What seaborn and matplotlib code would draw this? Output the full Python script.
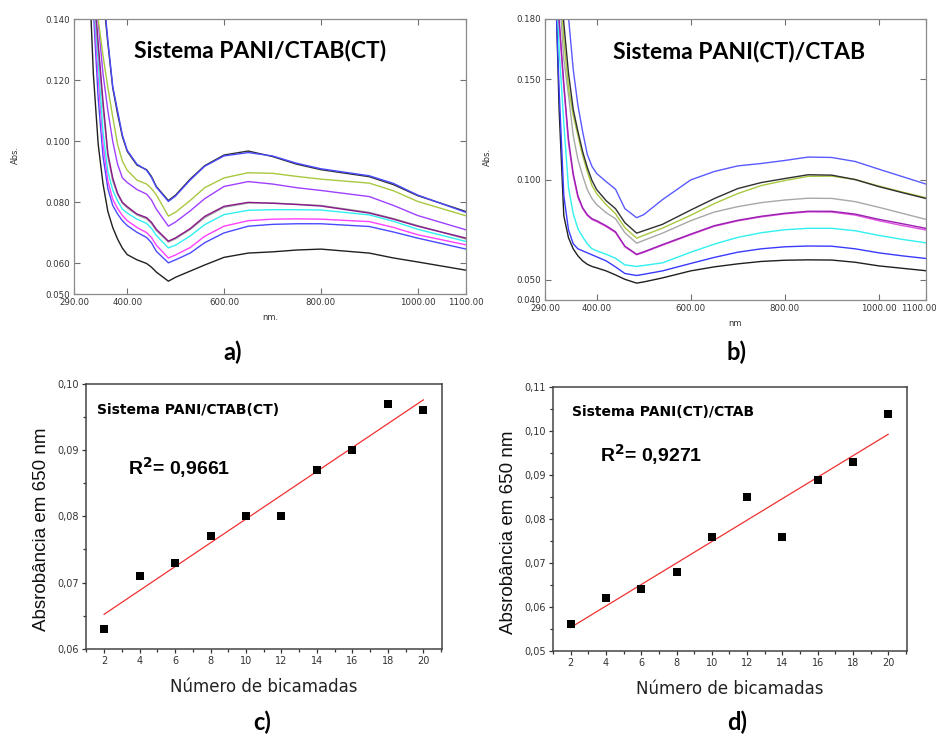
import numpy as np
import pandas as pd
import seaborn as sns
import matplotlib.pyplot as plt
import matplotlib.transforms as mtransforms
from matplotlib.ticker import FixedLocator, MultipleLocator, FuncFormatter

# ---- spectra, panel a (PANI/CTAB(CT)) ----
wl_a = [320, 330, 340, 350, 360, 370, 380, 390, 400, 420, 440, 450, 460, 485, 500, 530,
        560, 600, 650, 700, 750, 800, 900, 950, 1000, 1100]
a_black_top = [0.215, 0.190, 0.166, 0.148, 0.132, 0.1175, 0.109, 0.1015, 0.0967, 0.0922, 0.0907, 0.0885, 0.0852,
               0.0806, 0.0824, 0.0876, 0.0920, 0.0955, 0.0968, 0.0950, 0.0925, 0.0907, 0.0884, 0.0858, 0.0822, 0.0770]
a_blue_top = [0.220, 0.193, 0.168, 0.150, 0.133, 0.1180, 0.110, 0.1020, 0.0970, 0.0925, 0.0905, 0.0882, 0.0850,
              0.0803, 0.0821, 0.0873, 0.0918, 0.0952, 0.0963, 0.0952, 0.0928, 0.0910, 0.0887, 0.0862, 0.0824, 0.0767]
a_yellow = [0.200, 0.168, 0.140, 0.128, 0.1175, 0.108, 0.099, 0.0935, 0.0905, 0.0873, 0.0860, 0.0845, 0.0825,
            0.0755, 0.0768, 0.0806, 0.0848, 0.0880, 0.0897, 0.0895, 0.0885, 0.0876, 0.0863, 0.0838, 0.0803, 0.0756]
a_violet = [0.190, 0.158, 0.139, 0.122, 0.110, 0.100, 0.0925, 0.0880, 0.0865, 0.0842, 0.0827, 0.0808, 0.0778,
            0.0722, 0.0736, 0.0772, 0.0812, 0.0852, 0.0868, 0.0860, 0.0848, 0.0839, 0.0819, 0.0790, 0.0757, 0.0710]
a_purple = [0.185, 0.152, 0.132, 0.113, 0.096, 0.088, 0.0830, 0.0800, 0.0786, 0.0762, 0.0750, 0.0735, 0.0712,
            0.0673, 0.0684, 0.0714, 0.0754, 0.0787, 0.0800, 0.0797, 0.0793, 0.0788, 0.0765, 0.0745, 0.0722, 0.0683]
a_gray = [0.183, 0.150, 0.130, 0.111, 0.095, 0.087, 0.0826, 0.0797, 0.0782, 0.0759, 0.0746, 0.0731, 0.0708,
          0.0670, 0.0681, 0.0711, 0.0750, 0.0784, 0.0798, 0.0798, 0.0794, 0.0790, 0.0767, 0.0747, 0.0724, 0.0680]
a_cyan = [0.180, 0.148, 0.126, 0.103, 0.090, 0.084, 0.0805, 0.0778, 0.0765, 0.0745, 0.0731, 0.0715, 0.0692,
          0.0651, 0.0660, 0.0690, 0.0727, 0.0760, 0.0774, 0.0776, 0.0776, 0.0775, 0.0759, 0.0738, 0.0712, 0.0672]
a_magenta = [0.175, 0.146, 0.121, 0.099, 0.087, 0.081, 0.0780, 0.0757, 0.0740, 0.0718, 0.0701, 0.0685, 0.0660,
             0.0618, 0.0628, 0.0652, 0.0689, 0.0722, 0.0740, 0.0745, 0.0746, 0.0745, 0.0737, 0.0718, 0.0694, 0.0661]
a_blue = [0.170, 0.143, 0.114, 0.095, 0.0845, 0.079, 0.0762, 0.0740, 0.0724, 0.0702, 0.0685, 0.0668, 0.0640,
          0.0602, 0.0612, 0.0634, 0.0668, 0.0700, 0.0722, 0.0728, 0.0730, 0.0730, 0.0721, 0.0703, 0.0683, 0.0647]
a_black = [0.160, 0.122, 0.099, 0.086, 0.077, 0.0718, 0.0680, 0.0650, 0.0629, 0.0612, 0.0600, 0.0588, 0.0572,
           0.0542, 0.0555, 0.0575, 0.0595, 0.0620, 0.0634, 0.0638, 0.0644, 0.0647, 0.0634, 0.0618, 0.0605, 0.0578]

# ---- spectra, panel b (PANI(CT)/CTAB) ----
wl_b = [310, 320, 330, 340, 350, 360, 370, 380, 390, 400, 420, 440, 460, 485, 500, 540,
        600, 650, 700, 750, 800, 850, 900, 950, 1000, 1050, 1100]
b_blue_top = [0.320, 0.260, 0.210, 0.181, 0.155, 0.137, 0.124, 0.1125, 0.1065, 0.1030, 0.0990, 0.0952, 0.0855, 0.0810,
              0.0825, 0.0900, 0.0998, 0.1040, 0.1068, 0.1080, 0.1095, 0.1112, 0.1110, 0.1090, 0.1052, 0.1015, 0.0978]
b_black_top = [0.270, 0.215, 0.178, 0.153, 0.135, 0.124, 0.114, 0.1060, 0.0995, 0.0950, 0.0895, 0.0855, 0.0785, 0.0733,
               0.0745, 0.0777, 0.0848, 0.0905, 0.0955, 0.0985, 0.1005, 0.1024, 0.1022, 0.1000, 0.0965, 0.0935, 0.0906]
b_yellow = [0.260, 0.205, 0.170, 0.146, 0.132, 0.122, 0.112, 0.1040, 0.0970, 0.0930, 0.0875, 0.0830, 0.0760, 0.0708,
            0.0722, 0.0758, 0.0822, 0.0880, 0.0930, 0.0970, 0.0995, 0.1016, 0.1017, 0.1000, 0.0968, 0.0938, 0.0910]
b_gray = [0.250, 0.195, 0.160, 0.142, 0.122, 0.110, 0.102, 0.0950, 0.0905, 0.0875, 0.0835, 0.0805, 0.0735, 0.0683,
          0.0697, 0.0733, 0.0795, 0.0838, 0.0865, 0.0885, 0.0898, 0.0907, 0.0906, 0.0890, 0.0862, 0.0832, 0.0802]
b_purple = [0.240, 0.180, 0.148, 0.120, 0.103, 0.092, 0.0860, 0.0825, 0.0805, 0.0795, 0.0770, 0.0740, 0.0668, 0.0628,
            0.0640, 0.0676, 0.0728, 0.0770, 0.0797, 0.0817, 0.0832, 0.0842, 0.0842, 0.0828, 0.0802, 0.0780, 0.0757]
b_magenta = [0.238, 0.178, 0.146, 0.118, 0.102, 0.091, 0.0856, 0.0821, 0.0801, 0.0791, 0.0766, 0.0736, 0.0665, 0.0625,
             0.0637, 0.0673, 0.0725, 0.0767, 0.0794, 0.0814, 0.0829, 0.0839, 0.0838, 0.0823, 0.0795, 0.0771, 0.0749]
b_cyan = [0.230, 0.165, 0.128, 0.096, 0.083, 0.0755, 0.0715, 0.0680, 0.0655, 0.0645, 0.0628, 0.0608, 0.0575, 0.0567,
          0.0572, 0.0585, 0.0638, 0.0678, 0.0712, 0.0735, 0.0750, 0.0757, 0.0757, 0.0745, 0.0722, 0.0702, 0.0685]
b_blue = [0.210, 0.145, 0.092, 0.075, 0.068, 0.0655, 0.0645, 0.0635, 0.0625, 0.0615, 0.0595, 0.0565, 0.0532, 0.0522,
          0.0528, 0.0545, 0.0582, 0.0612, 0.0638, 0.0655, 0.0665, 0.0669, 0.0668, 0.0655, 0.0635, 0.0620, 0.0607]
b_black = [0.220, 0.135, 0.082, 0.071, 0.0655, 0.0620, 0.0595, 0.0578, 0.0567, 0.0560, 0.0545, 0.0525, 0.0503, 0.0484,
           0.0490, 0.0510, 0.0545, 0.0565, 0.0580, 0.0592, 0.0598, 0.0600, 0.0599, 0.0588, 0.0570, 0.0558, 0.0546]

# ---- absorbance at 650 nm vs bilayers ----
bilayers = [2, 4, 6, 8, 10, 12, 14, 16, 18, 20]
abs_c = [0.063, 0.071, 0.073, 0.077, 0.080, 0.080, 0.087, 0.090, 0.097, 0.096]
abs_d = [0.056, 0.062, 0.064, 0.068, 0.076, 0.085, 0.076, 0.089, 0.093, 0.104]

spectra_a = [(a_black, "#202020"), (a_blue, "#4a4aff"), (a_magenta, "#ff40ff"),
             (a_cyan, "#30f0f0"), (a_gray, "#a0a0a0"), (a_purple, "#8a1a8a"),
             (a_violet, "#a040ff"), (a_yellow, "#a8c840"), (a_black_top, "#303030"),
             (a_blue_top, "#4a4aff")]
spectra_b = [(b_black, "#202020"), (b_blue, "#3a3aff"), (b_cyan, "#30f0f0"),
             (b_magenta, "#e050e0"), (b_purple, "#9a20b0"), (b_gray, "#a8a8a8"),
             (b_yellow, "#a8c840"), (b_black_top, "#303030"), (b_blue_top, "#5a5aff")]

fig = plt.figure(figsize=(9.39, 7.38), dpi=100)

title_font = dict(family="Lato", weight="bold")


def spectra_panel(ax, wl, curves, ylim, yticks, title, title_x, xlab):
    for vals, col in curves:
        sns.lineplot(x=wl, y=vals, color=col, lw=1.0, ax=ax, sort=False)
    ax.set_xlim(290, 1100)
    ax.set_ylim(*ylim)
    ax.xaxis.set_major_locator(FixedLocator([290, 400, 600, 800, 1000, 1100]))
    ax.yaxis.set_major_locator(FixedLocator(yticks))
    ax.xaxis.set_major_formatter(FuncFormatter(lambda v, p: f"{v:.2f}"))
    ax.yaxis.set_major_formatter(FuncFormatter(lambda v, p: f"{v:.3f}"))
    ax.tick_params(direction="in", top=True, right=True, length=4, width=0.8,
                   labelsize=6.2, color="#707070", labelcolor="#333333", pad=3)
    for s in ax.spines.values():
        s.set_color("#8a8a8a")
        s.set_linewidth(0.9)
    ax.set_xlabel(xlab, fontsize=6, color="#333333", labelpad=4)
    ax.set_ylabel("")
    ax.text(title_x, 0.885, title, transform=ax.transAxes, ha="center", va="center",
            fontsize=16.5, **title_font)


ax_a = fig.add_axes([0.0788, 0.6016, 0.4175, 0.3726])
spectra_panel(ax_a, wl_a, spectra_a, (0.050, 0.140),
              [0.050, 0.060, 0.080, 0.100, 0.120, 0.140], "Sistema PANI/CTAB(CT)", 0.475, "nm.")
fig.text(15 / 939, 1 - 155 / 738, "Abs.", rotation=90, ha="center", va="center",
         fontsize=6, color="#333333")

ax_b = fig.add_axes([0.5804, 0.5935, 0.4054, 0.3808])
spectra_panel(ax_b, wl_b, spectra_b, (0.040, 0.180),
              [0.040, 0.050, 0.100, 0.150, 0.180], "Sistema PANI(CT)/CTAB", 0.51, "nm")
fig.text(487 / 939, 1 - 157 / 738, "Abs.", rotation=90, ha="center", va="center",
         fontsize=6, color="#333333")
# keep the last x label of panel b inside the picture
fig.canvas.draw()
last = ax_b.get_xticklabels()[-1]
last.set_transform(last.get_transform() + mtransforms.ScaledTranslation(-0.07, 0, fig.dpi_scale_trans))


def fit_panel(ax, y, ylim, title, r2, title_xy, r2_xy, ylab_xy):
    sns.regplot(x=bilayers, y=y, scatter=False, ci=None, ax=ax,
                line_kws=dict(color="#f03030", lw=0.9))
    sns.scatterplot(x=bilayers, y=y, marker="s", s=26, color="black",
                    edgecolor="black", linewidth=0, ax=ax, zorder=3)
    ax.set_xlim(0.98, 21.05)
    ax.set_ylim(*ylim)
    ax.xaxis.set_major_locator(MultipleLocator(2))
    ax.xaxis.set_minor_locator(MultipleLocator(1))
    ax.yaxis.set_major_locator(MultipleLocator(0.01))
    ax.yaxis.set_minor_locator(MultipleLocator(0.005))
    ax.yaxis.set_major_formatter(FuncFormatter(lambda v, p: f"{v:.2f}".replace(".", ",")))
    ax.tick_params(which="both", direction="out", length=3, width=0.9,
                   color="#333333", labelsize=7, labelcolor="#333333", pad=2)
    ax.tick_params(which="minor", length=2.5)
    for s in ax.spines.values():
        s.set_color("#444444")
        s.set_linewidth(1.1)
    ax.set_xlabel("Número de bicamadas", fontsize=12, family="DejaVu Sans",
                  color="#222222", labelpad=9)
    ax.set_ylabel("Absrobância em 650 nm", fontsize=13.5, family="Liberation Sans",
                  color="#111111")
    ax.yaxis.set_label_coords(*ylab_xy)
    ax.text(*title_xy, title, transform=ax.transAxes, ha="left", va="center",
            fontsize=10, weight="bold", family="DejaVu Sans")
    ax.text(*r2_xy, "R$^{\\mathbf{2}}$= " + r2, transform=ax.transAxes, ha="left",
            va="center", fontsize=14, weight="bold", family="Liberation Sans")


ax_c = fig.add_axes([0.0916, 0.1210, 0.3791, 0.3587])
fit_panel(ax_c, abs_c, (0.06, 0.10), "Sistema PANI/CTAB(CT)", "0,9661",
          (0.03, 0.90), (0.117, 0.685), (-0.101, 0.453))

ax_d = fig.add_axes([0.5886, 0.1183, 0.3770, 0.3568])
fit_panel(ax_d, abs_d, (0.05, 0.11), "Sistema PANI(CT)/CTAB", "0,9271",
          (0.054, 0.905), (0.135, 0.745), (-0.101, 0.451))

for lab, x, y in [("a)", 233, 352), ("b)", 737, 352), ("c)", 262, 722), ("d)", 737, 722)]:
    fig.text(x / 939, 1 - y / 738, lab, ha="center", va="center", fontsize=17, **title_font)

fig.savefig("out.png", dpi=100)
